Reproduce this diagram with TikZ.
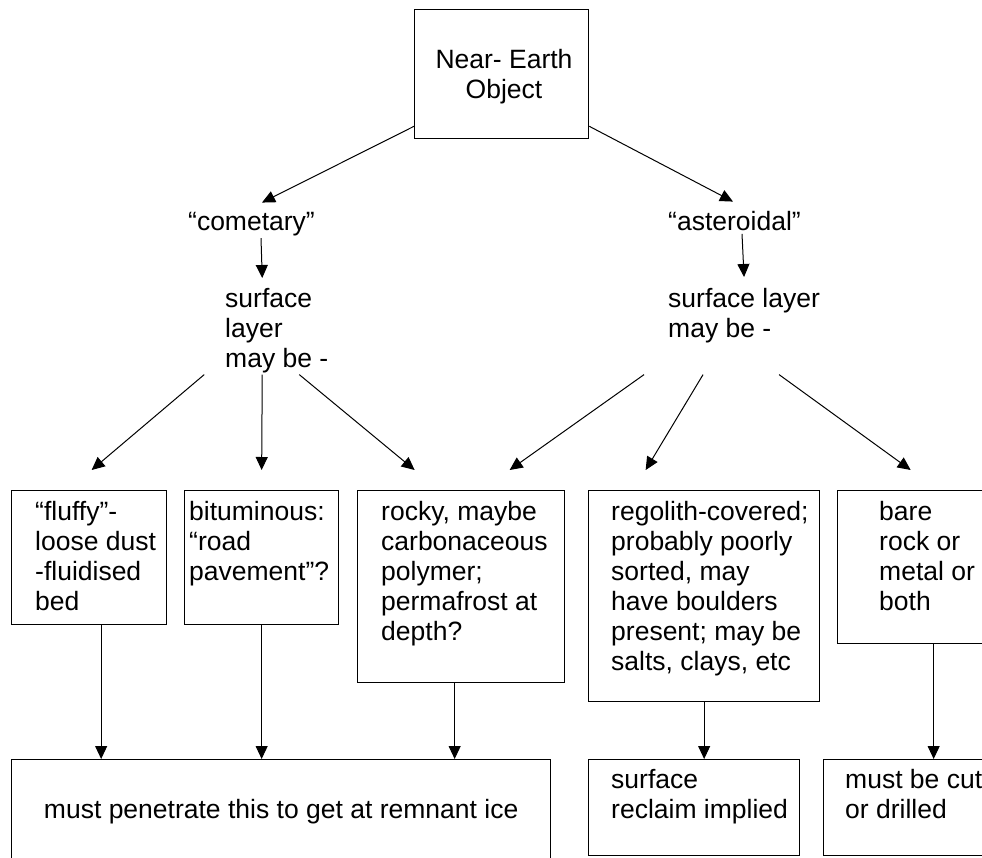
\documentclass[tikz,border=0pt]{standalone}
\usepackage{fontspec}
\setmainfont{Liberation Sans}
\usetikzlibrary{arrows.meta}
\begin{document}
\begin{tikzpicture}[ x=1pt, y=-1pt,
	  every node/.style={ font=\fontsize{26.5}{30}\selectfont, inner sep=0pt },
	  box/.style={ draw, line width=1.3pt, anchor=north west },
	  txt/.style={ anchor=north west, align=left },
	  arr/.style={ line width=1pt, -{Triangle[length=13pt,width=12pt]} } ]
	  \useasboundingbox [ fill=white ] (0,0) rectangle (982,857);
	  \clip (0,0) rectangle (982,857);

	  \node [ box, minimum width=174, minimum height=129 ] (neo) at (414,9) {};
	  \node [ align=center, anchor=north ] (neo-t) at (504,49) {Near- Earth\\Object};
	  \node [ anchor=base ] (com) at (251.5,230) {“cometary”};
	  \node [ anchor=base ] (ast) at (734.5,230) {“asteroidal”};
	  \node [ txt ] (comlay) at (225,288) {surface\\layer\\may be -};
	  \node [ txt ] (astlay) at (668,288) {surface layer\\may be -};

	  \node [ box, minimum width=155, minimum height=134 ] (fluffy) at (11,490) {};
	  \node [ box, minimum width=154, minimum height=134 ] (bitum) at (184,490) {};
	  \node [ box, minimum width=207, minimum height=192 ] (rocky) at (357,490) {};
	  \node [ box, minimum width=231, minimum height=211 ] (regolith) at (588,490) {};
	  \node [ box, minimum width=192, minimum height=153 ] (bare) at (837,490) {};
	  \node [ box, minimum width=539, minimum height=104.5 ] (pen) at (11,759) {must penetrate this to get at remnant ice};
	  \node [ box, minimum width=211, minimum height=96 ] (reclaim) at (588,759) {};
	  \node [ box, minimum width=220, minimum height=96 ] (cut) at (823,759) {};

	  \node [ txt ] (fluffy-t) at (35,501) {“fluffy”-\\loose dust\\-fluidised\\bed};
	  \node [ txt ] (bitum-t) at (189,501) {bituminous:\\“road\\pavement”?};
	  \node [ txt ] (rocky-t) at (381,501) {rocky, maybe\\carbonaceous\\polymer;\\permafrost at\\depth?};
	  \node [ txt ] (regolith-t) at (611,501) {regolith-covered;\\probably poorly\\sorted, may\\have boulders\\present; may be\\salts, clays, etc};
	  \node [ txt ] (bare-t) at (879,501) {bare\\rock or\\metal or\\both};
	  \node [ txt ] (reclaim-t) at (611,769) {surface\\reclaim implied};
	  \node [ txt ] (cut-t) at (845,769) {must be cut\\or drilled};

	  \draw [ arr ] ([yshift=13pt]neo.south west) -- ([xshift=10.5pt,yshift=9pt]com.north);
	  \draw [ arr ] ([yshift=13pt]neo.south east) -- ([xshift=-1.5pt,yshift=9pt]ast.north);
	  \draw [ arr ] ([xshift=9.5pt,yshift=-2.5pt]com.south) -- ([xshift=-14.5pt,yshift=10pt]comlay.north);
	  \draw [ arr ] ([xshift=7.5pt,yshift=-3.5pt]ast.south) -- ([yshift=11pt]astlay.north);

	  \draw [ arr ] ([xshift=-72.5pt,yshift=-1.5pt]comlay.south) -- ([xshift=2.5pt,yshift=20pt]fluffy.north);
	  \draw [ arr ] ([xshift=-14.5pt,yshift=-1.5pt]comlay.south) -- ([yshift=20pt]bitum.north);
	  \draw [ arr ] ([xshift=22.5pt,yshift=-1.5pt]comlay.south) -- ([xshift=-46.5pt,yshift=20pt]rocky.north);
	  \draw [ arr ] ([xshift=-100pt,yshift=-31.5pt]astlay.south) -- ([xshift=48.5pt,yshift=20pt]rocky.north);
	  \draw [ arr ] ([xshift=-41pt,yshift=-31.5pt]astlay.south) -- ([xshift=-58.5pt,yshift=20pt]regolith.north);
	  \draw [ arr ] ([xshift=35pt,yshift=-31.5pt]astlay.south) -- ([xshift=-23pt,yshift=20pt]bare.north);

	  \draw [ arr ] ([xshift=12pt]fluffy.south) -- ([xshift=12pt]fluffy.south |- pen.north);
	  \draw [ arr ] (bitum.south) -- (bitum.south |- pen.north);
	  \draw [ arr ] ([xshift=-6.5pt]rocky.south) -- ([xshift=-6.5pt]rocky.south |- pen.north);
	  \draw [ arr ] (regolith.south) -- (regolith.south |- reclaim.north);
	  \draw [ arr ] (bare.south) -- (bare.south |- cut.north);
\end{tikzpicture}
\end{document}
